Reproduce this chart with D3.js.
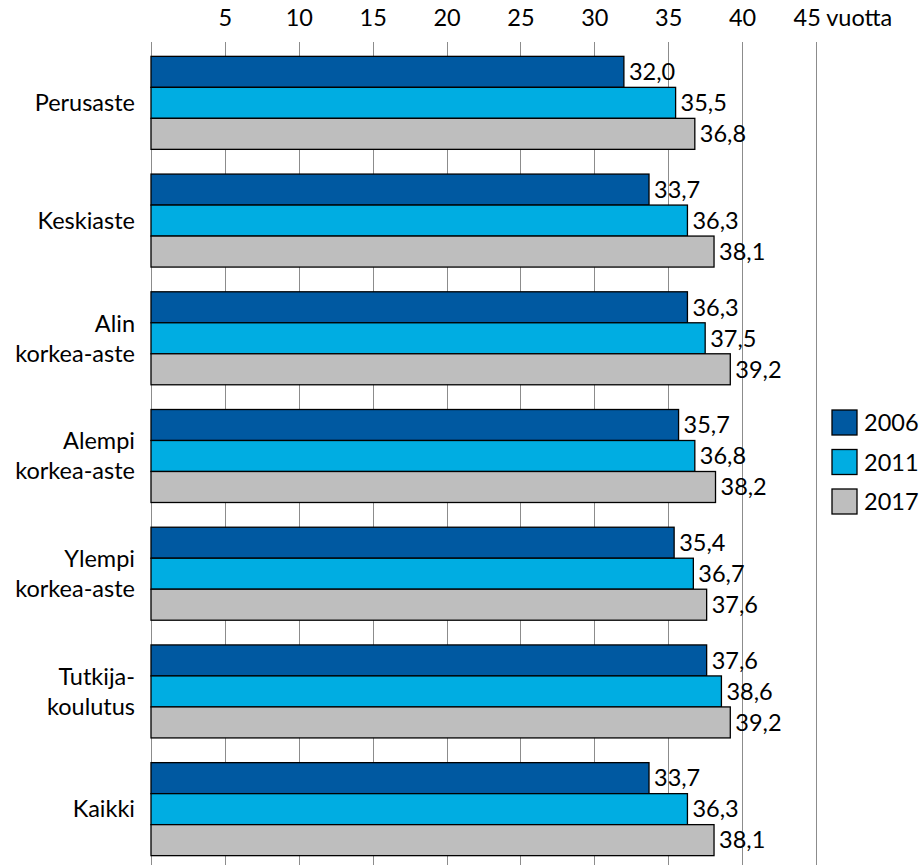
<!DOCTYPE html>
<html>
<head>
<meta charset="utf-8">
<script src="https://cdn.jsdelivr.net/npm/d3@7"></script>
<style>
  body { margin: 0; background: #fff; }
  text { font-family: Lato, "Open Sans", sans-serif; fill: #000; }
</style>
</head>
<body>
<script>
// categorie (etichette su più righe)
const categories = [
    ["Perusaste"],
    ["Keskiaste"],
    ["Alin", "korkea-aste"],
    ["Alempi", "korkea-aste"],
    ["Ylempi", "korkea-aste"],
    ["Tutkija-", "koulutus"],
    ["Kaikki"]
];
const years = ["2006", "2011", "2017"];
const values2006 = [32.0, 33.7, 36.3, 35.7, 35.4, 37.6, 33.7];
const values2011 = [35.5, 36.3, 37.5, 36.8, 36.7, 38.6, 36.3];
const values2017 = [36.8, 38.1, 39.2, 38.2, 37.6, 39.2, 38.1];
const tickValues = [5, 10, 15, 20, 25, 30, 35, 40, 45];
const colors = ["#0059a1", "#00ade2", "#bebebe"];

const width = 922, height = 865;
const x0 = 151, x45 = 816;
const fontSize = "23.5px";

const svg = d3.select("body").append("svg")
    .attr("width", width)
    .attr("height", height);

const x = d3.scaleLinear().domain([0, 45]).range([x0, x45]);

const y = d3.scaleBand()
    .domain(d3.range(categories.length))
    .range([44, 868])
    .paddingInner(0.21)
    .paddingOuter(0.105);

const ySub = d3.scaleBand()
    .domain(years)
    .range([0, y.bandwidth()]);

// griglia verticale
svg.append("g")
    .selectAll("line")
    .data([0].concat(tickValues))
    .join("line")
    .attr("x1", d => Math.round(x(d)) + 0.5)
    .attr("x2", d => Math.round(x(d)) + 0.5)
    .attr("y1", 42)
    .attr("y2", height)
    .attr("stroke", "#8c8c8c")
    .attr("stroke-width", 1);

// asse superiore
const axis = svg.append("g")
    .attr("transform", "translate(0,30)")
    .call(d3.axisTop(x).tickValues(tickValues).tickSize(0).tickPadding(0));
axis.select(".domain").remove();
axis.selectAll("text")
    .style("font-size", fontSize)
    .attr("dy", "0.35em")
    .attr("y", -12);
axis.selectAll(".tick")
    .filter(d => d === 45)
    .select("text")
    .attr("text-anchor", "start")
    .attr("x", -23)
    .text("45 vuotta");

const series = [values2006, values2011, values2017];

const groups = svg.append("g")
    .selectAll("g")
    .data(categories)
    .join("g")
    .attr("transform", (d, i) => `translate(0,${y(i)})`);

groups.each(function(cat, i) {
    const g = d3.select(this);
    years.forEach((yr, s) => {
        const v = series[s][i];
        g.append("rect")
            .attr("x", x(0))
            .attr("y", ySub(yr))
            .attr("width", x(v) - x(0))
            .attr("height", ySub.bandwidth())
            .attr("fill", colors[s])
            .attr("stroke", "#000")
            .attr("stroke-width", 1.3);
        g.append("text")
            .attr("x", x(v) + 5)
            .attr("y", ySub(yr) + ySub.bandwidth() / 2)
            .attr("dy", "0.35em")
            .style("font-size", fontSize)
            .text(v.toFixed(1).replace(".", ","));
    });
    const cy = y.bandwidth() / 2;
    const lh = 30;
    g.append("text")
        .attr("text-anchor", "end")
        .style("font-size", fontSize)
        .selectAll("tspan")
        .data(cat)
        .join("tspan")
        .attr("x", 135)
        .attr("y", (d, k) => cy + (k - (cat.length - 1) / 2) * lh)
        .attr("dy", "0.35em")
        .text(d => d);
});

// legenda
const legend = svg.append("g")
    .selectAll("g")
    .data(years)
    .join("g")
    .attr("transform", (d, i) => `translate(832,${410 + i * 39.5})`);
legend.append("rect")
    .attr("width", 25)
    .attr("height", 25)
    .attr("fill", (d, i) => colors[i])
    .attr("stroke", "#000")
    .attr("stroke-width", 1.3);
legend.append("text")
    .attr("x", 32)
    .attr("y", 13)
    .attr("dy", "0.35em")
    .style("font-size", fontSize)
    .text(d => d);
</script>
</body>
</html>
